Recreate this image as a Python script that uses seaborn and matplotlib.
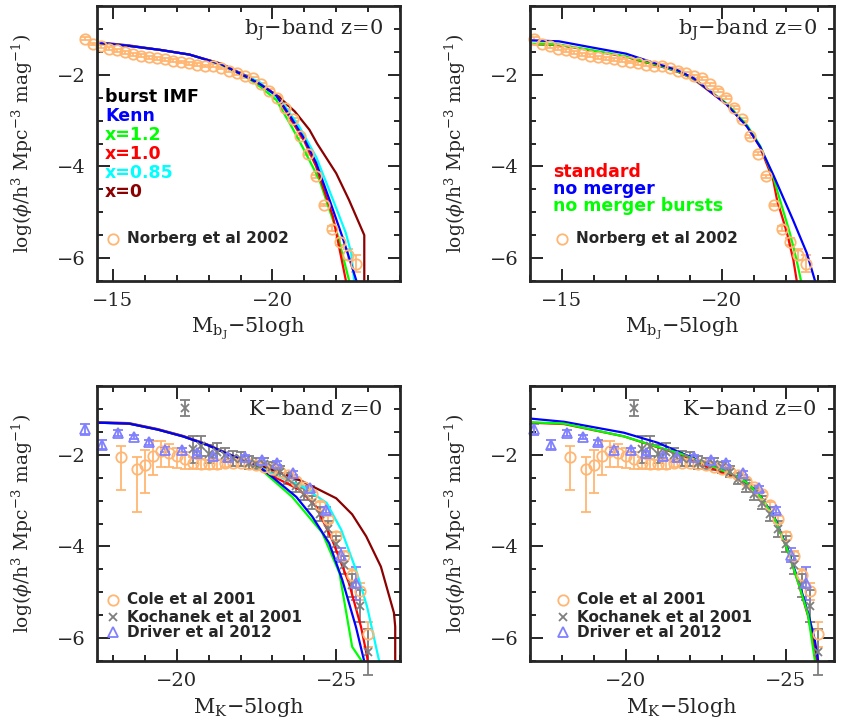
import numpy as np
import pandas as pd
import matplotlib
matplotlib.use('Agg')
import matplotlib.pyplot as plt
import seaborn as sns
from matplotlib.ticker import MultipleLocator

sns.set_style("ticks")
plt.rcParams['font.family'] = ['DejaVu Serif']
plt.rcParams['mathtext.fontset'] = 'dejavuserif'

# colours
BLUE, GREEN, RED, CYAN, BROWN = '#0000FF', '#00FF00', '#FF0000', '#00FFFF', '#8B0000'
ORANGE = '#FFB673'
GREY = '#7F7F7F'
LBLUE = '#8080FF'

# ---------------------------------------------------------------------------
# Observational data
# ---------------------------------------------------------------------------
# Norberg et al 2002 (bJ)
NOR_M = [-14.13, -14.38, -14.63, -14.88, -15.13, -15.38, -15.63, -15.88, -16.13, -16.38,
         -16.63, -16.88, -17.13, -17.38, -17.63, -17.88, -18.13, -18.38, -18.63, -18.88,
         -19.13, -19.38, -19.63, -19.88, -20.13, -20.38, -20.63, -20.88, -21.13, -21.38,
         -21.63, -21.88, -22.13, -22.38, -22.63]
NOR_V = [-1.21, -1.33, -1.38, -1.43, -1.47, -1.51, -1.55, -1.58, -1.62, -1.64,
         -1.66, -1.69, -1.72, -1.75, -1.78, -1.81, -1.80, -1.85, -1.91, -1.97,
         -2.03, -2.08, -2.21, -2.35, -2.50, -2.72, -2.97, -3.34, -3.72, -4.22,
         -4.84, -5.36, -5.64, -5.93, -6.12]
NOR_E = [0.03] * 31 + [0.05, 0.07, 0.12, 0.18]

# Cole et al 2001 (K)
COLE_M = [-18.25, -18.75, -19.0, -19.25, -19.5, -19.75, -20.0, -20.25, -20.5, -20.75,
          -21.0, -21.25, -21.5, -21.75, -22.0, -22.25, -22.5, -22.75, -23.0, -23.25,
          -23.5, -23.75, -24.0, -24.25, -24.5, -24.75, -25.0, -25.25, -25.5, -25.75, -26.0]
COLE_V = [-2.05, -2.31, -2.22, -2.02, -1.92, -1.97, -2.03, -2.10, -2.17, -2.20,
          -2.20, -2.20, -2.18, -2.17, -2.18, -2.20, -2.23, -2.27, -2.30, -2.37,
          -2.45, -2.57, -2.70, -2.86, -3.10, -3.41, -3.77, -4.21, -4.62, -4.97, -5.90]
COLE_LO = [0.72, 0.93, 0.62, 0.42, 0.35, 0.30, 0.25, 0.20, 0.15, 0.12,
           0.10, 0.10, 0.08, 0.07, 0.06, 0.05, 0.05, 0.05, 0.05, 0.05,
           0.05, 0.05, 0.05, 0.05, 0.06, 0.07, 0.08, 0.10, 0.14, 0.20, 0.30]
COLE_HI = [0.25, 0.27, 0.33, 0.31, 0.22, 0.20, 0.18, 0.15, 0.12, 0.10,
           0.09, 0.08, 0.07, 0.06, 0.05, 0.05, 0.05, 0.05, 0.05, 0.05,
           0.05, 0.05, 0.05, 0.05, 0.06, 0.07, 0.08, 0.10, 0.13, 0.18, 0.25]

# Kochanek et al 2001 (K)
KOC_M = [-20.25, -20.5, -20.75, -21.0, -21.25, -21.5, -21.75, -22.0, -22.25, -22.5,
         -22.75, -23.0, -23.25, -23.5, -23.75, -24.0, -24.25, -24.5, -24.75, -25.0,
         -25.25, -25.5, -25.75, -26.0]
KOC_V = [-0.98, -1.88, -1.80, -1.98, -1.93, -2.00, -2.08, -2.10, -2.17, -2.20,
         -2.20, -2.27, -2.37, -2.52, -2.68, -2.85, -3.05, -3.30, -3.62, -3.95,
         -4.40, -4.85, -5.30, -6.30]
KOC_E = [0.17, 0.30, 0.22, 0.20, 0.18, 0.15, 0.17, 0.15, 0.15, 0.12,
         0.13, 0.12, 0.12, 0.12, 0.13, 0.13, 0.14, 0.15, 0.17, 0.18,
         0.20, 0.25, 0.35, 0.50]

# Driver et al 2012 (K)
DRI_M = [-17.13, -17.66, -18.16, -18.65, -19.13, -19.64, -20.16, -20.63, -21.15, -21.6,
         -22.13, -22.66, -23.13, -23.65, -24.17, -24.69, -25.16, -25.63]
DRI_V = [-1.44, -1.78, -1.53, -1.61, -1.73, -1.89, -1.89, -1.96, -2.03, -2.05,
         -2.05, -2.11, -2.18, -2.40, -2.73, -3.20, -4.18, -4.80]
DRI_E = [0.12, 0.10, 0.06, 0.05, 0.05, 0.05, 0.04, 0.04, 0.04, 0.04,
         0.04, 0.04, 0.04, 0.05, 0.05, 0.07, 0.15, 0.36]

# ---------------------------------------------------------------------------
# Model curves: top-left (bJ, burst IMF)
# ---------------------------------------------------------------------------
TL_KENN_M = [-14.5, -15.5, -16.5, -17.4, -18.4, -19.2, -19.6, -20.12, -20.6, -21.0, -21.37, -21.8, -22.2, -22.5, -22.68]
TL_KENN_V = [-1.30, -1.37, -1.46, -1.56, -1.77, -2.05, -2.20, -2.45, -2.95, -3.40, -3.92, -4.75, -5.55, -6.20, -6.60]
TL_X12_M = [-14.5, -15.5, -16.5, -17.4, -18.4, -19.2, -19.6, -20.12, -20.6, -21.0, -21.47, -22.0, -22.4, -22.45]
TL_X12_V = [-1.30, -1.37, -1.46, -1.56, -1.78, -2.06, -2.25, -2.55, -3.13, -3.65, -4.29, -5.38, -6.48, -6.60]
TL_X10_M = [-14.5, -15.5, -16.5, -17.4, -18.4, -19.2, -19.6, -20.12, -20.6, -21.0, -21.37, -21.9, -22.3, -22.33]
TL_X10_V = [-1.30, -1.37, -1.46, -1.56, -1.77, -2.05, -2.20, -2.44, -3.00, -3.45, -4.00, -5.10, -6.48, -6.60]
TL_X085_M = [-14.5, -15.5, -16.5, -17.4, -18.4, -19.2, -19.6, -20.3, -20.84, -21.37, -21.9, -22.3, -22.47, -22.58]
TL_X085_V = [-1.30, -1.37, -1.46, -1.56, -1.77, -2.04, -2.16, -2.60, -3.13, -3.79, -4.73, -5.45, -5.89, -6.60]
TL_X0_M = [-14.5, -15.5, -16.5, -17.4, -18.4, -19.2, -19.5, -20.2, -20.7, -21.16, -21.4, -22.0, -22.4, -22.88, -22.88]
TL_X0_V = [-1.29, -1.36, -1.46, -1.56, -1.76, -2.03, -2.15, -2.48, -2.80, -3.20, -3.50, -4.15, -4.73, -5.50, -6.60]

# Model curves: top-right (bJ)
TR_STD_M = [-14.0, -14.9, -15.9, -17.0, -18.0, -18.6, -19.1, -20.15, -20.78, -21.19, -21.6, -21.72, -22.03, -22.23, -22.36]
TR_STD_V = [-1.33, -1.35, -1.47, -1.61, -1.80, -1.93, -2.09, -2.65, -3.12, -3.58, -4.30, -4.73, -5.45, -6.04, -6.60]
TR_NOM_M = [-14.0, -14.9, -15.9, -17.0, -18.0, -18.6, -19.1, -20.15, -20.78, -21.19, -21.6, -22.22, -22.65, -22.9, -22.95]
TR_NOM_V = [-1.25, -1.27, -1.40, -1.54, -1.77, -1.90, -2.07, -2.65, -3.13, -3.57, -4.18, -5.17, -5.89, -6.48, -6.60]
TR_NMB_M = [-14.0, -14.9, -15.9, -17.0, -18.0, -18.6, -19.1, -20.15, -20.78, -21.19, -21.6, -21.81, -22.12, -22.33, -22.5]
TR_NMB_V = [-1.32, -1.34, -1.46, -1.60, -1.79, -1.92, -2.08, -2.63, -3.10, -3.55, -4.22, -4.73, -5.45, -6.04, -6.60]

# Model curves: bottom-left (K, burst IMF)
BL_KENN_M = [-17.5, -18.5, -19.4, -20.2, -20.94, -21.75, -22.5, -22.9, -23.75, -24.25, -24.78, -25.19, -25.62, -25.87, -25.9]
BL_KENN_V = [-1.30, -1.32, -1.45, -1.60, -1.78, -2.03, -2.22, -2.43, -2.92, -3.35, -3.93, -4.73, -5.76, -6.48, -6.60]
BL_X12_M = [-17.5, -18.5, -19.4, -20.2, -20.94, -21.75, -22.5, -22.9, -23.62, -24.56, -25.1, -25.5, -25.78, -25.85]
BL_X12_V = [-1.30, -1.32, -1.45, -1.60, -1.78, -2.03, -2.23, -2.48, -2.92, -3.70, -4.58, -6.19, -6.48, -6.60]
BL_X10_M = [-17.5, -18.5, -19.4, -20.2, -20.94, -21.75, -22.5, -22.9, -23.84, -24.37, -24.875, -25.4, -25.78, -25.97, -26.0]
BL_X10_V = [-1.30, -1.32, -1.45, -1.60, -1.78, -2.03, -2.22, -2.43, -2.76, -3.13, -3.86, -4.80, -5.76, -6.41, -6.60]
BL_X085_M = [-17.5, -18.5, -19.4, -20.2, -20.94, -21.75, -22.5, -22.9, -23.94, -24.7, -25.16, -25.62, -25.97, -26.34, -26.4]
BL_X085_V = [-1.30, -1.32, -1.45, -1.60, -1.78, -2.03, -2.22, -2.39, -2.69, -3.05, -3.64, -4.51, -5.32, -6.48, -6.60]
BL_X0_M = [-17.5, -18.5, -19.4, -20.2, -20.94, -21.75, -22.5, -22.9, -23.94, -25.0, -25.5, -25.94, -26.4, -26.81, -26.85, -26.85]
BL_X0_V = [-1.29, -1.31, -1.44, -1.59, -1.77, -2.02, -2.21, -2.30, -2.58, -2.95, -3.30, -3.78, -4.44, -5.45, -5.75, -6.60]

# Model curves: bottom-right (K)
BR_STD_M = [-17.0, -18.06, -19.94, -21.0, -21.72, -22.5, -23.0, -23.38, -23.8, -24.22, -24.63, -25.06, -25.41, -25.69, -25.92, -25.97]
BR_STD_V = [-1.30, -1.33, -1.60, -1.84, -2.00, -2.25, -2.38, -2.46, -2.63, -2.93, -3.37, -4.10, -4.85, -5.52, -6.30, -6.60]
BR_NOM_M = [-17.0, -18.06, -19.94, -21.0, -21.72, -22.75, -23.38, -23.8, -24.22, -24.63, -25.06, -25.41, -25.69, -25.9, -26.0, -26.02]
BR_NOM_V = [-1.21, -1.28, -1.52, -1.74, -1.96, -2.26, -2.44, -2.62, -2.92, -3.35, -4.07, -4.80, -5.45, -6.04, -6.48, -6.60]
BR_NMB_M = [-17.0, -18.06, -19.94, -21.0, -21.72, -22.75, -23.38, -23.8, -24.22, -24.63, -25.06, -25.41, -25.69, -25.9, -25.92]
BR_NMB_V = [-1.29, -1.32, -1.60, -1.83, -1.98, -2.27, -2.44, -2.62, -2.93, -3.37, -4.10, -4.85, -5.50, -6.48, -6.60]

# ---------------------------------------------------------------------------
# Figure
# ---------------------------------------------------------------------------
W, H = 844, 720
fig = plt.figure(figsize=(W / 100, H / 100), dpi=100)


def px_axes(x0, x1, y0, y1):
    return fig.add_axes([x0 / W, 1 - y1 / H, (x1 - x0) / W, (y1 - y0) / H])


ax_tl = px_axes(97, 400, 6, 281)
ax_tr = px_axes(530, 834, 6, 281)
ax_bl = px_axes(97, 400, 386, 661)
ax_br = px_axes(530, 834, 386, 661)

YLABEL = r'log($\phi$/h$^3$ Mpc$^{-3}$ mag$^{-1}$)'
XLAB_B = r'M$_{\mathrm{b}_{\mathrm{J}}}$$-$5logh'
XLAB_K = r'M$_{\mathrm{K}}$$-$5logh'


def style(ax, xlim, xlab):
    ax.set_xlim(*xlim)
    ax.set_ylim(-6.5, -0.5)
    ax.xaxis.set_major_locator(MultipleLocator(5))
    ax.xaxis.set_minor_locator(MultipleLocator(1))
    ax.yaxis.set_major_locator(MultipleLocator(2))
    ax.yaxis.set_minor_locator(MultipleLocator(0.5))
    ax.tick_params(which='both', direction='in', top=True, right=True, width=1.4, labelsize=14)
    ax.tick_params(which='major', length=9, pad=8)
    ax.tick_params(which='minor', length=4.5)
    for s in ax.spines.values():
        s.set_linewidth(2)
    ax.set_xlabel(xlab, fontsize=15, labelpad=4)
    ax.set_ylabel(YLABEL, fontsize=13.5)
    ax.yaxis.set_label_coords(-0.205, 0.5)


def curve(ax, m, v, color):
    sns.lineplot(x=m, y=v, ax=ax, color=color, lw=1.6, sort=False, estimator=None)


def points(ax, m, v, err, color, marker, ms, mew=1.3):
    eb = ax.errorbar(m, v, yerr=err, fmt=marker, ms=ms, mfc='none', mec=color, mew=mew,
                     ecolor=color, elinewidth=1.3, capsize=3.5, capthick=1.3, zorder=2)
    for a in eb.lines[0:1] + tuple(eb.lines[1]) + tuple(eb.lines[2]):
        if a is not None:
            a.set_clip_on(False)


def legend_marker(ax, x, y, color, marker, ms, label):
    ax.plot([x], [y], marker=marker, ms=ms, mfc='none', mec=color, mew=1.3, transform=ax.transAxes)
    ax.text(x + 0.046, y, label, transform=ax.transAxes, fontsize=11, fontweight='bold',
            family='DejaVu Sans', va='center', ha='left')


# --- top-left
ax = ax_tl
points(ax, NOR_M, NOR_V, NOR_E, ORANGE, 'o', 7.5)
curve(ax, TL_X0_M, TL_X0_V, BROWN)
curve(ax, TL_X085_M, TL_X085_V, CYAN)
curve(ax, TL_X12_M, TL_X12_V, GREEN)
curve(ax, TL_X10_M, TL_X10_V, RED)
curve(ax, TL_KENN_M, TL_KENN_V, BLUE)
style(ax, (-14.5, -24.0), XLAB_B)
labels = [('burst IMF', 'black'), ('Kenn', BLUE), ('x=1.2', GREEN), ('x=1.0', RED),
          ('x=0.85', CYAN), ('x=0', BROWN)]
for i, (t, c) in enumerate(labels):
    ax.text(0.026, 0.669 - i * 0.069, t, color=c, transform=ax.transAxes, fontsize=12.5,
            fontweight='bold', family='DejaVu Sans', va='center')
legend_marker(ax, 0.053, 0.153, ORANGE, 'o', 7.5, 'Norberg et al 2002')
ax.text(0.944, 0.913, r'b$_\mathrm{J}$$-$band z=0', transform=ax.transAxes, fontsize=15,
        ha='right', va='center')

# --- top-right
ax = ax_tr
points(ax, NOR_M, NOR_V, NOR_E, ORANGE, 'o', 7.5)
curve(ax, TR_STD_M, TR_STD_V, RED)
curve(ax, TR_NMB_M, TR_NMB_V, GREEN)
curve(ax, TR_NOM_M, TR_NOM_V, BLUE)
style(ax, (-14.0, -23.5), XLAB_B)
for i, (t, c) in enumerate([('standard', RED), ('no merger', BLUE), ('no merger bursts', GREEN)]):
    ax.text(0.076, 0.396 - i * 0.062, t, color=c, transform=ax.transAxes, fontsize=12.5,
            fontweight='bold', family='DejaVu Sans', va='center')
legend_marker(ax, 0.105, 0.153, ORANGE, 'o', 7.5, 'Norberg et al 2002')
ax.text(0.944, 0.913, r'b$_\mathrm{J}$$-$band z=0', transform=ax.transAxes, fontsize=15,
        ha='right', va='center')

# --- bottom panels
for ax, xlim, lx in [(ax_bl, (-17.5, -27.0), 0.053), (ax_br, (-17.0, -26.5), 0.109)]:
    points(ax, COLE_M, COLE_V, [COLE_LO, COLE_HI], ORANGE, 'o', 7.5)
    points(ax, KOC_M, KOC_V, KOC_E, GREY, 'x', 5.5)
    points(ax, DRI_M, DRI_V, DRI_E, LBLUE, '^', 6.5)
    if ax is ax_bl:
        curve(ax, BL_X0_M, BL_X0_V, BROWN)
        curve(ax, BL_X085_M, BL_X085_V, CYAN)
        curve(ax, BL_X12_M, BL_X12_V, GREEN)
        curve(ax, BL_X10_M, BL_X10_V, RED)
        curve(ax, BL_KENN_M, BL_KENN_V, BLUE)
    else:
        curve(ax, BR_STD_M, BR_STD_V, RED)
        curve(ax, BR_NOM_M, BR_NOM_V, BLUE)
        curve(ax, BR_NMB_M, BR_NMB_V, GREEN)
    style(ax, xlim, XLAB_K)
    legend_marker(ax, lx, 0.222, ORANGE, 'o', 7.5, 'Cole et al 2001')
    legend_marker(ax, lx, 0.160, GREY, 'x', 5.5, 'Kochanek et al 2001')
    legend_marker(ax, lx, 0.105, LBLUE, '^', 6.5, 'Driver et al 2012')
    ax.text(0.944, 0.913, r'K$-$band z=0', transform=ax.transAxes, fontsize=15,
            ha='right', va='center')

fig.savefig('out.png', dpi=100)
